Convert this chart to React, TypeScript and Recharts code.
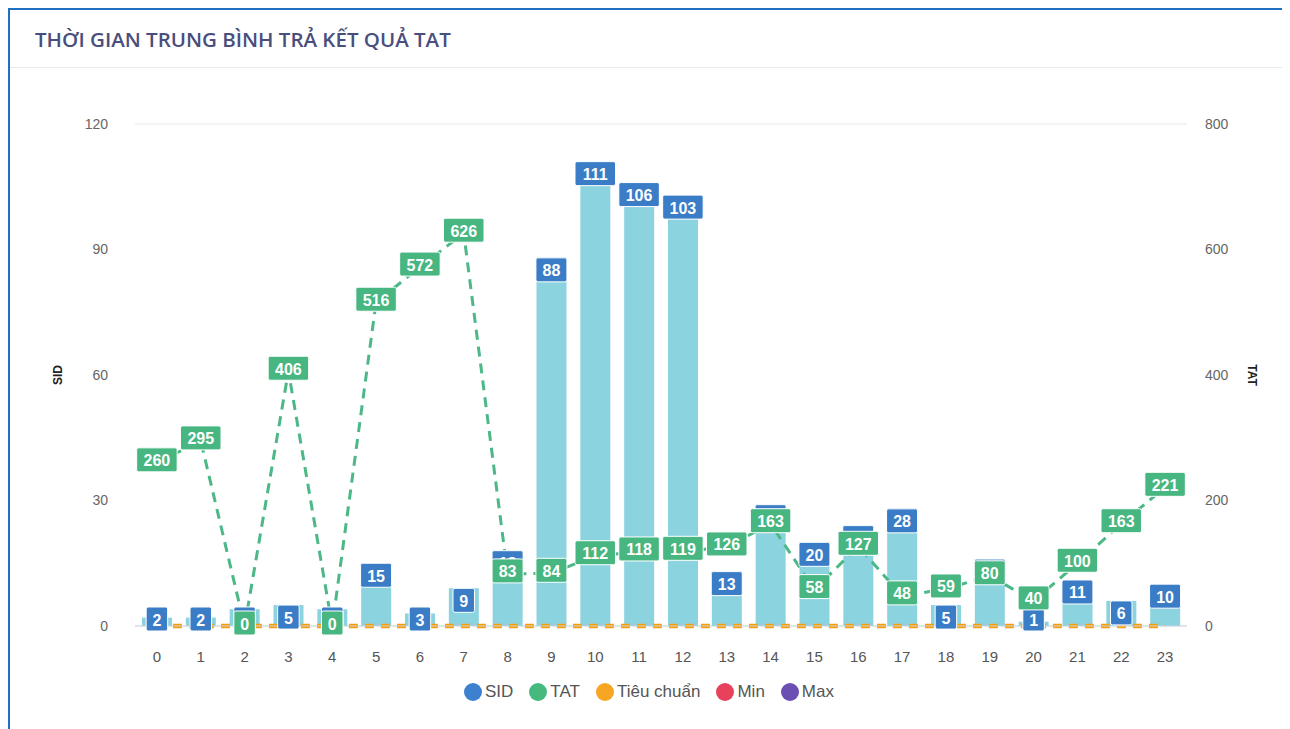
import React from 'react';
import {
  ComposedChart,
  Bar,
  Line,
  XAxis,
  YAxis,
  CartesianGrid,
  Legend,
  LabelList
} from 'recharts';

const hours = ['0', '1', '2', '3', '4', '5', '6', '7', '8', '9', '10', '11', '12', '13', '14', '15', '16', '17', '18', '19', '20', '21', '22', '23'];
const sidCounts = [2, 2, 4, 5, 4, 15, 3, 9, 18, 88, 111, 106, 103, 13, 29, 20, 24, 28, 5, 16, 1, 11, 6, 10];
const tatValues = [260, 295, 0, 406, 0, 516, 572, 626, 83, 84, 112, 118, 119, 126, 163, 58, 127, 48, 59, 80, 40, 100, 163, 221];
const standardValues = [0, 0, 0, 0, 0, 0, 0, 0, 0, 0, 0, 0, 0, 0, 0, 0, 0, 0, 0, 0, 0, 0, 0, 0];
const sidTicks = [0, 30, 60, 90, 120];
const tatTicks = [0, 200, 400, 600, 800];

const legendItems = [
  { name: 'SID', color: '#3d80d0' },
  { name: 'TAT', color: '#46b97f' },
  { name: 'Tiêu chuẩn', color: '#f6a623' },
  { name: 'Min', color: '#e8415b' },
  { name: 'Max', color: '#6c4fb2' }
];

const data = hours.map((hour, i) => ({
  hour,
  sid: sidCounts[i],
  sidLabel: sidCounts[i],
  tat: tatValues[i],
  standard: standardValues[i]
}));

const CHART_W = 1282;
const CHART_H = 713;
const MARGIN = { top: 116, right: 43, bottom: 65, left: 67 };
const X_AXIS_H = 30;
const PLOT_BOTTOM = CHART_H - MARGIN.bottom - X_AXIS_H;

const labelFont = '"Liberation Sans", Arial, sans-serif';

function boxWidth(text: string) {
  return 12 + text.length * 9.5;
}

function SidLabel(props: any) {
  const x = props.x ?? props.viewBox?.x;
  const y = props.y ?? props.viewBox?.y;
  const value = props.value;
  if (x == null || y == null || value == null) return null;
  const text = String(value);
  const w = boxWidth(text);
  const h = 24;
  const top = Math.min(y, PLOT_BOTTOM - 19);
  return (
    <g>
      <rect x={x - w / 2} y={top} width={w} height={h} rx={2} fill="#3a7cc6" stroke="#ffffff" strokeWidth={1} />
      <text x={x} y={top + h / 2 + 1} textAnchor="middle" dominantBaseline="central" fill="#fff" fontSize={16} fontWeight="bold" fontFamily={labelFont}>
        {text}
      </text>
    </g>
  );
}

function TatLabel(props: any) {
  const x = props.x ?? props.viewBox?.x;
  const y = props.y ?? props.viewBox?.y;
  const value = props.value;
  if (x == null || y == null || value == null) return null;
  const text = String(value);
  const w = boxWidth(text);
  const h = 24;
  const cy = y - 3;
  return (
    <g>
      <rect x={x - w / 2} y={cy - h / 2} width={w} height={h} rx={2} fill="#47b680" stroke="#ffffff" strokeWidth={1} />
      <text x={x} y={cy + 1} textAnchor="middle" dominantBaseline="central" fill="#fff" fontSize={16} fontWeight="bold" fontFamily={labelFont}>
        {text}
      </text>
    </g>
  );
}

function ChartLegend() {
  return (
    <div style={{ display: 'flex', justifyContent: 'center', alignItems: 'center', fontFamily: labelFont, fontSize: 17, color: '#555' }}>
      {legendItems.map((item) => (
        <span key={item.name} style={{ display: 'flex', alignItems: 'center', margin: '0 8px' }}>
          <span style={{ width: 18, height: 18, borderRadius: 9, background: item.color, display: 'inline-block', marginRight: 3 }} />
          {item.name}
        </span>
      ))}
    </div>
  );
}

export default function App() {
  return (
    <div style={{ position: 'relative', width: 1282, height: 721, borderTop: '2px solid #1f6fc2', borderLeft: '2px solid #1f6fc2', boxSizing: 'border-box', background: '#fff' }}>
      <div style={{ position: 'absolute', left: 25, top: 15, fontFamily: '"Open Sans", sans-serif', fontWeight: 600, fontSize: 20.5, color: '#4a4e7c' }}>
        THỜI GIAN TRUNG BÌNH TRẢ KẾT QUẢ TAT
      </div>
      <div style={{ position: 'absolute', left: 0, right: 0, top: 57, height: 1, background: '#e6e9ef' }} />
      <div style={{ position: 'absolute', left: -2, top: -2 }}>
        <ComposedChart width={CHART_W} height={CHART_H} data={data} margin={MARGIN}>
          <CartesianGrid vertical={false} stroke="#e6e9ee" />
          <XAxis
            dataKey="hour"
            height={X_AXIS_H}
            tickLine={false}
            axisLine={{ stroke: '#cfd3da' }}
            tickMargin={19}
            tick={{ fill: '#555', fontSize: 15, fontFamily: labelFont }}
            interval={0}
          />
          <YAxis
            yAxisId="left"
            width={60}
            domain={[0, 120]}
            ticks={sidTicks}
            tickLine={false}
            axisLine={false}
            tickMargin={21}
            tick={{ fill: '#666', fontSize: 14, fontFamily: labelFont }}
            label={{
              position: 'insideLeft',
              content: (p: any) => {
                const vb = p.viewBox || {};
                const cx = 50;
                const cy = vb.y + vb.height / 2;
                return (
                  <text x={cx} y={cy} transform={`rotate(-90 ${cx} ${cy})`} textAnchor="middle" dominantBaseline="central" fontSize={12} fontWeight="bold" fill="#222" fontFamily={labelFont}>
                    SID
                  </text>
                );
              }
            }}
          />
          <YAxis
            yAxisId="right"
            orientation="right"
            width={60}
            domain={[0, 800]}
            ticks={tatTicks}
            tickLine={false}
            axisLine={false}
            tickMargin={12}
            tick={{ fill: '#666', fontSize: 14, fontFamily: labelFont }}
            label={{
              position: 'insideRight',
              content: (p: any) => {
                const vb = p.viewBox || {};
                const cx = 1244;
                const cy = vb.y + vb.height / 2;
                return (
                  <text x={cx} y={cy} transform={`rotate(90 ${cx} ${cy})`} textAnchor="middle" dominantBaseline="central" fontSize={12} fontWeight="bold" fill="#222" fontFamily={labelFont}>
                    TAT
                  </text>
                );
              }
            }}
          />
          <Legend
            layout="horizontal"
            verticalAlign="middle"
            align="center"
            wrapperStyle={{ position: 'absolute', top: 674, left: 0, width: CHART_W }}
            content={() => <ChartLegend />}
          />
          <Bar yAxisId="left" dataKey="sid" name="SID" fill="#8cd3e0" barSize={30} isAnimationActive={false} />
          <Line
            yAxisId="right"
            dataKey="standard"
            name="Tiêu chuẩn"
            stroke="#f5a00f"
            strokeWidth={4.5}
            strokeDasharray="9 7"
            dot={false}
            activeDot={false}
            isAnimationActive={false}
          />
          <Line
            yAxisId="left"
            dataKey="sidLabel"
            stroke="none"
            dot={false}
            activeDot={false}
            legendType="none"
            isAnimationActive={false}
          >
            <LabelList dataKey="sidLabel" content={<SidLabel />} />
          </Line>
          <Line
            yAxisId="right"
            dataKey="tat"
            name="TAT"
            stroke="#4bb886"
            strokeWidth={3}
            strokeDasharray="10 7"
            dot={false}
            activeDot={false}
            isAnimationActive={false}
          >
            <LabelList dataKey="tat" content={<TatLabel />} />
          </Line>
        </ComposedChart>
      </div>
    </div>
  );
}
